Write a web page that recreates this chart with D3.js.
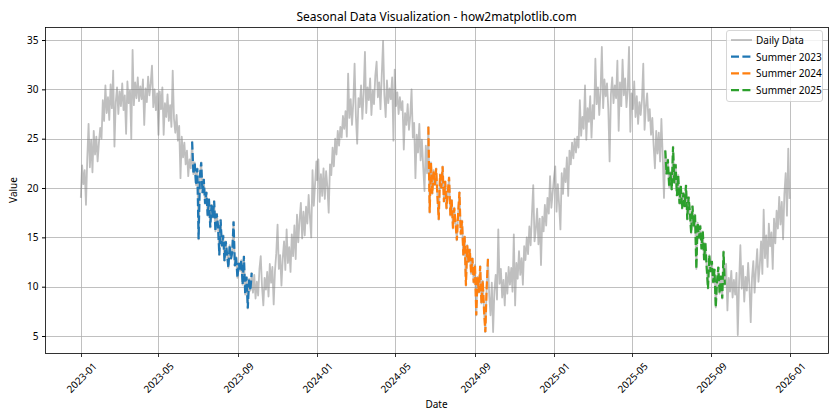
<!DOCTYPE html>
<html>
<head>
<meta charset="utf-8">
<script src="https://cdn.jsdelivr.net/npm/d3@7"></script>
<style>
  body { margin: 0; background: #fff; }
  svg { display: block; }
  text { font-family: "Noto Sans", "DejaVu Sans", sans-serif; fill: #000; }
</style>
</head>
<body>
<svg id="chart" width="840" height="420"></svg>
<script>
const values2023 = [
19.0,22.3,20.4,21.8,18.3,23.0,26.5,22.1,24.9,21.6,25.8,23.4,25.2,22.7,24.6,26.1,25.0,28.9,26.8,30.4,
27.6,29.2,26.9,30.5,28.1,31.9,24.2,28.7,30.2,27.5,29.8,28.3,30.6,27.9,29.4,25.5,30.8,28.6,29.9,25.0,
34.0,28.4,30.7,29.1,31.2,28.8,30.3,29.0,31.0,26.4,30.1,28.7,31.3,29.4,30.6,32.4,28.2,30.0,27.9,29.6,
25.4,29.8,28.0,30.2,25.4,28.6,27.2,29.5,26.8,28.4,26.2,31.9,27.0,25.6,27.4,24.8,26.3,21.0,25.2,23.1,
24.6,22.4,23.8,21.2,22.9,22.0,24.7,21.4,22.6,20.3,22.0,14.8,21.2,22.6,19.5,20.9,18.4,19.6,17.2,18.9,
16.0,18.3,17.0,18.7,15.6,17.4,16.2,13.2,16.8,14.1,15.2,12.6,14.6,13.3,11.9,14.2,12.8,13.5,16.6,12.1,
13.0,10.9,12.4,11.6,12.7,10.2,13.1,9.2,11.0,7.8,10.8,9.6,11.4,9.4,11.2,8.8,10.5,9.1,11.8,13.1,
10.0,8.1,10.9,9.7,11.5,9.0,12.3,10.4,12.0,8.2,11.6,13.4,16.3,11.8,13.2,10.1,12.9,14.6,11.7,15.8,
12.4,14.0,11.5,15.3,13.1,16.2,12.8,17.3,14.5,16.8,18.5,14.9,17.6,15.2,18.1,16.4,19.3,17.0,15.0,21.8,
18.2,20.5,22.7
];
const values2024 = [
20.8,22.9,18.6,21.4,19.2,22.0,18.9,21.7,20.1,17.5,22.4,21.3,24.1,22.2,25.0,23.4,25.8,24.3,26.2,25.1,
27.3,26.0,27.8,25.2,31.6,27.1,29.0,26.4,28.7,32.6,27.3,24.5,29.1,28.2,30.4,27.0,29.6,33.8,27.6,30.2,
28.9,31.1,27.4,29.9,28.5,31.4,32.8,29.2,30.7,28.0,31.5,34.9,29.4,27.2,30.9,28.6,30.1,29.0,31.2,24.8,
32.0,28.3,29.7,27.5,29.2,27.9,28.8,23.9,27.6,26.4,28.5,25.9,27.3,30.0,25.1,26.6,21.0,25.4,23.6,26.5,
22.8,24.9,22.1,19.7,24.3,21.5,26.2,17.5,22.6,19.4,21.8,20.3,22.0,19.1,16.8,21.4,20.0,22.2,18.6,20.7,
17.9,19.6,21.1,17.2,18.8,15.9,18.0,16.4,14.7,17.5,19.6,15.3,16.7,13.2,15.1,10.1,14.2,12.5,13.8,11.3,
12.9,10.4,12.2,7.1,11.0,9.4,12.1,8.3,10.6,7.6,5.4,9.8,12.8,9.1,7.1,10.4,5.4,9.6,11.2,8.7,
15.8,10.3,11.8,8.9,10.7,8.1,11.4,9.3,12.0,10.2,11.9,9.5,15.3,8.1,12.4,10.8,13.6,11.2,12.9,10.2,
14.1,12.7,15.0,13.3,16.1,14.2,17.4,20.3,14.6,15.8,17.9,14.3,16.9,12.2,17.1,15.6,18.3,16.2,19.0,17.4,
21.2,18.0,19.5
];
const values2025 = [
21.0,22.2,17.6,20.4,18.3,15.8,21.5,19.4,22.0,20.6,23.1,19.2,23.8,22.4,24.6,23.0,25.0,23.6,25.2,24.1,
28.9,25.3,27.2,26.0,30.4,24.9,28.1,26.7,29.3,25.1,28.4,27.0,33.1,28.5,30.2,27.4,29.8,34.3,28.1,31.0,
29.3,30.6,28.0,22.7,29.5,31.2,28.6,30.4,29.1,32.9,25.8,30.7,28.3,33.0,29.4,31.1,28.2,30.0,34.3,25.7,
29.6,28.0,30.8,27.2,29.3,26.5,28.7,27.4,29.0,32.6,25.9,28.3,29.6,26.8,28.0,25.4,27.1,24.3,22.0,25.8,
23.5,25.6,22.7,27.0,23.3,19.0,23.8,21.4,22.9,20.1,21.6,19.8,24.2,20.5,22.4,19.2,21.3,18.4,20.2,17.9,
19.5,18.1,20.3,16.8,19.1,17.6,15.4,18.2,16.1,17.3,11.8,16.5,14.9,16.2,13.8,15.6,12.7,14.4,11.9,9.8,
13.2,11.5,12.6,10.4,11.8,7.9,10.6,12.0,9.3,11.1,8.8,13.6,10.2,12.3,7.6,10.9,9.5,11.6,8.9,10.7,
9.2,11.4,5.1,10.3,14.2,9.8,12.1,8.5,11.0,9.6,12.4,10.1,6.4,10.9,12.6,9.4,11.7,13.8,10.5,12.2,
14.6,11.3,17.8,12.9,15.2,12.0,16.4,14.1,15.5,11.8,16.9,14.4,17.7,15.9,19.1,16.3,18.6,14.8,19.4,21.5,
17.2,24.0,18.9
];
const years = [2023, 2024, 2025];
const seriesByYear = [values2023, values2024, values2025];
const summerLabels = ["Summer 2023", "Summer 2024", "Summer 2025"];
const summerColors = ["#1f77b4", "#ff7f0e", "#2ca02c"];
const xTickLabels = ["2023-01","2023-05","2023-09","2024-01","2024-05","2024-09","2025-01","2025-05","2025-09","2026-01"];
const yTicks = [5, 10, 15, 20, 25, 30, 35];

// Build (2-day sampled) records
const data = [];
years.forEach((yr, k) => {
  seriesByYear[k].forEach((v, i) => {
    data.push({ date: d3.utcDay.offset(new Date(Date.UTC(yr, 0, 1)), 2 * i), value: v, year: yr });
  });
});

const svg = d3.select("#chart");
const L = 45, R = 828, T = 27, B = 353;

const parseTick = d3.utcParse("%Y-%m");
const x = d3.scaleUtc()
  .domain([parseTick("2023-01"), parseTick("2026-01")])
  .range([80.8, 790.2]);
const y = d3.scaleLinear().domain([3.28, 36.32]).range([B, T]);

svg.append("defs").append("clipPath").attr("id", "clip")
  .append("rect").attr("x", L).attr("y", T).attr("width", R - L).attr("height", B - T);

// Grid
const grid = svg.append("g");
xTickLabels.forEach(t => {
  const xx = Math.round(x(parseTick(t))) + 0.5;
  grid.append("line").attr("x1", xx).attr("x2", xx).attr("y1", T).attr("y2", B)
    .attr("stroke", "#b0b0b0").attr("stroke-width", 0.8);
});
yTicks.forEach(t => {
  const yy = Math.round(y(t)) + 0.5;
  grid.append("line").attr("x1", L).attr("x2", R).attr("y1", yy).attr("y2", yy)
    .attr("stroke", "#b0b0b0").attr("stroke-width", 0.8);
});

const line = d3.line().x(d => x(d.date)).y(d => y(d.value));
const plot = svg.append("g").attr("clip-path", "url(#clip)");

plot.append("path").datum(data).attr("d", line)
  .attr("fill", "none").attr("stroke", "#808080").attr("stroke-opacity", 0.5)
  .attr("stroke-width", 1.8).attr("stroke-linejoin", "round");

years.forEach((yr, k) => {
  const s = new Date(Date.UTC(yr, 5, 21)), e = new Date(Date.UTC(yr, 8, 22));
  const sub = data.filter(d => d.date >= s && d.date <= e);
  plot.append("path").datum(sub).attr("d", line)
    .attr("fill", "none").attr("stroke", summerColors[k]).attr("stroke-width", 2.2)
    .attr("stroke-dasharray", "8,3.4");
});

// Spines
svg.append("rect").attr("x", L + 0.5).attr("y", T + 0.5).attr("width", R - L).attr("height", B - T)
  .attr("fill", "none").attr("stroke", "#000").attr("stroke-width", 0.8);

// Y axis ticks/labels
const yAxis = d3.axisLeft(y).tickValues(yTicks).tickSize(3.5).tickPadding(3.5);
const ya = svg.append("g").attr("transform", `translate(${L + 0.5},0)`).call(yAxis);
ya.select(".domain").remove();
ya.selectAll("text").style("font-size", "10px").style("font-family", '"Noto Sans", sans-serif').attr("fill", "#000");

// X axis ticks
const xa = svg.append("g").attr("transform", `translate(0,${B + 0.5})`);
xTickLabels.forEach(t => {
  const xx = Math.round(x(parseTick(t))) + 0.5;
  xa.append("line").attr("x1", xx).attr("x2", xx).attr("y1", 0).attr("y2", 3.5).attr("stroke", "#000").attr("stroke-width", 0.8);
  const txt = xa.append("text").text(t).style("font-size", "10px")
    .attr("text-anchor", "middle").attr("dominant-baseline", "central");
  const len = txt.node().getComputedTextLength();
  const h = 10;
  const half = (len + h) * Math.SQRT1_2 / 2;
  txt.attr("transform", `translate(${xx},${7 + half}) rotate(-45)`);
});

// Labels
svg.append("text").attr("x", (L + R) / 2).attr("y", 21).attr("text-anchor", "middle")
  .style("font-size", "12px").text("Seasonal Data Visualization - how2matplotlib.com");
svg.append("text").attr("x", (L + R) / 2).attr("y", 408).attr("text-anchor", "middle")
  .style("font-size", "10px").text("Date");
svg.append("text").attr("transform", `translate(17,${(T + B) / 2}) rotate(-90)`).attr("text-anchor", "middle")
  .style("font-size", "10px").text("Value");

// Legend
const lg = svg.append("g").attr("transform", "translate(726,30)");
lg.append("rect").attr("x", 0.5).attr("y", 0.5).attr("width", 96).attr("height", 71).attr("rx", 2.5)
  .attr("fill", "#fff").attr("fill-opacity", 0.8).attr("stroke", "#cccccc").attr("stroke-width", 0.8);
const entries = [{ label: "Daily Data", color: "#808080", op: 0.5, dash: null }]
  .concat(summerLabels.map((l, k) => ({ label: l, color: summerColors[k], op: 1, dash: "8,3.4" })));
entries.forEach((en, i) => {
  const cy = 10 + i * 16.7;
  const ln = lg.append("line").attr("x1", 5).attr("x2", 26).attr("y1", cy).attr("y2", cy)
    .attr("stroke", en.color).attr("stroke-opacity", en.op).attr("stroke-width", en.dash ? 2.2 : 1.8);
  if (en.dash) ln.attr("stroke-dasharray", en.dash);
  lg.append("text").attr("x", 30).attr("y", cy).attr("dominant-baseline", "central")
    .style("font-size", "10px").text(en.label);
});
</script>
</body>
</html>
